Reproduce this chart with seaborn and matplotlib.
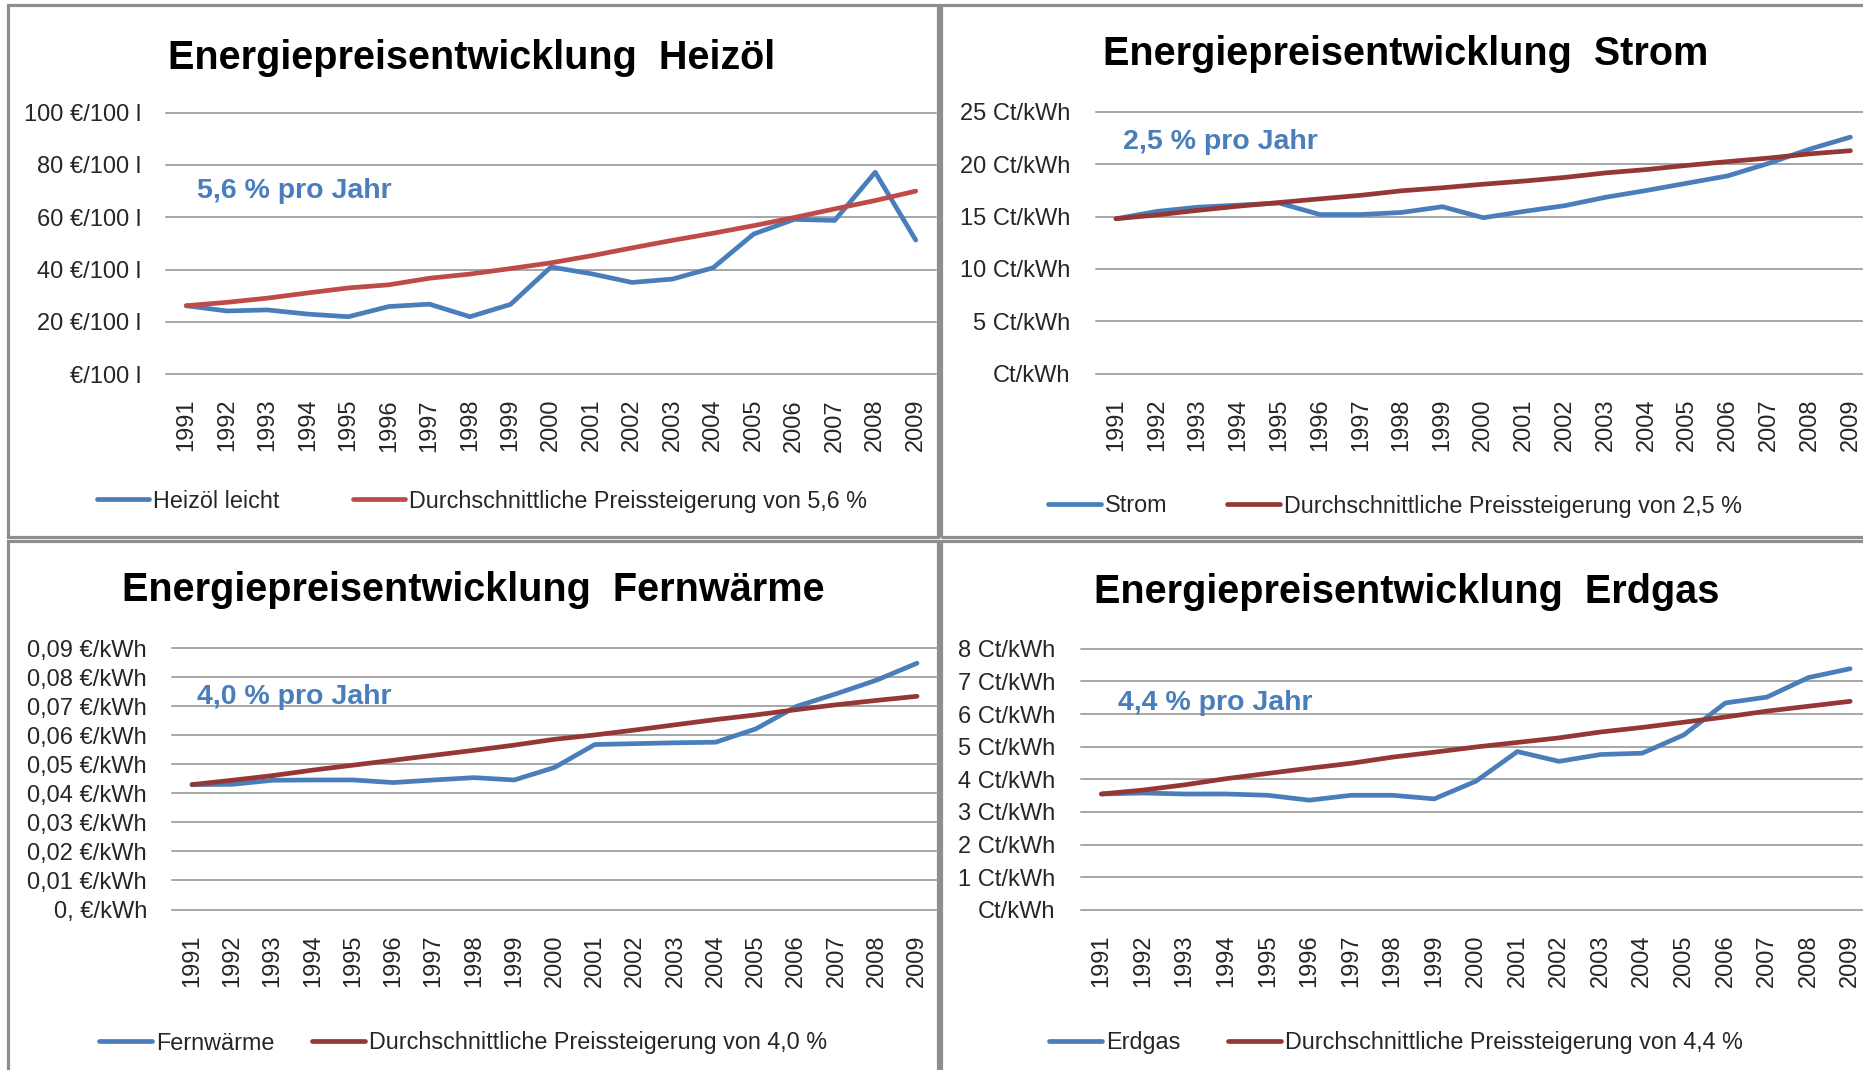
import matplotlib
matplotlib.use("Agg")
import matplotlib.pyplot as plt
import seaborn as sns
import pandas as pd
from matplotlib.patches import Rectangle

# ---------------- data ----------------
years = list(range(1991, 2010))

heizoel_preis = [26.2, 24.2, 24.6, 23.0, 22.0, 25.9, 26.8, 22.0, 26.7, 41.0,
                 38.4, 35.1, 36.4, 40.7, 53.6, 59.2, 58.8, 77.2, 51.3]
heizoel_trend = [26.2, 27.5, 29.1, 31.1, 33.0, 34.2, 36.7, 38.3, 40.4, 42.6,
                 45.3, 48.3, 51.2, 53.9, 56.8, 59.9, 63.2, 66.4, 70.0]

strom_preis = [14.8, 15.5, 15.9, 16.1, 16.3, 15.2, 15.2, 15.4, 15.95, 14.9,
               15.5, 16.05, 16.85, 17.5, 18.2, 18.9, 20.1, 21.45, 22.6]
strom_trend = [14.8, 15.16, 15.6, 16.0, 16.35, 16.7, 17.04, 17.47, 17.76, 18.1,
               18.4, 18.75, 19.18, 19.5, 19.9, 20.26, 20.6, 21.0, 21.3]

fernwaerme_preis = [0.0430, 0.0431, 0.0445, 0.0446, 0.0446, 0.0437, 0.0446, 0.0454, 0.0446, 0.0489,
                    0.0568, 0.0571, 0.0574, 0.0576, 0.0622, 0.0699, 0.0743, 0.0790, 0.0848]
fernwaerme_trend = [0.0430, 0.0445, 0.0461, 0.0480, 0.0497, 0.0514, 0.0531, 0.0548, 0.0566, 0.0586,
                    0.0601, 0.0618, 0.0636, 0.0654, 0.0670, 0.0688, 0.0705, 0.0720, 0.0734]

erdgas_preis = [3.55, 3.58, 3.55, 3.55, 3.51, 3.36, 3.51, 3.51, 3.40, 3.94,
                4.85, 4.55, 4.76, 4.80, 5.36, 6.34, 6.52, 7.12, 7.39]
erdgas_trend = [3.55, 3.67, 3.83, 4.02, 4.18, 4.34, 4.49, 4.68, 4.83, 4.99,
                5.13, 5.27, 5.45, 5.59, 5.75, 5.91, 6.09, 6.24, 6.39]

heizoel_ticks = [0, 20, 40, 60, 80, 100]
heizoel_ticklabels = ["€/100 l", "20 €/100 l", "40 €/100 l", "60 €/100 l", "80 €/100 l", "100 €/100 l"]
strom_ticks = [0, 5, 10, 15, 20, 25]
strom_ticklabels = ["Ct/kWh", "5 Ct/kWh", "10 Ct/kWh", "15 Ct/kWh", "20 Ct/kWh", "25 Ct/kWh"]
fernwaerme_ticks = [0.0, 0.01, 0.02, 0.03, 0.04, 0.05, 0.06, 0.07, 0.08, 0.09]
fernwaerme_ticklabels = ["0, €/kWh", "0,01 €/kWh", "0,02 €/kWh", "0,03 €/kWh", "0,04 €/kWh",
                         "0,05 €/kWh", "0,06 €/kWh", "0,07 €/kWh", "0,08 €/kWh", "0,09 €/kWh"]
erdgas_ticks = [0, 1, 2, 3, 4, 5, 6, 7, 8]
erdgas_ticklabels = ["Ct/kWh", "1 Ct/kWh", "2 Ct/kWh", "3 Ct/kWh", "4 Ct/kWh",
                     "5 Ct/kWh", "6 Ct/kWh", "7 Ct/kWh", "8 Ct/kWh"]

titles = ["Energiepreisentwicklung  Heizöl", "Energiepreisentwicklung  Strom",
          "Energiepreisentwicklung  Fernwärme", "Energiepreisentwicklung  Erdgas"]
rates = ["5,6 % pro Jahr", "2,5 % pro Jahr", "4,0 % pro Jahr", "4,4 % pro Jahr"]
series_names = ["Heizöl leicht", "Strom", "Fernwärme", "Erdgas"]
trend_names = ["Durchschnittliche Preissteigerung von 5,6 %",
               "Durchschnittliche Preissteigerung von 2,5 %",
               "Durchschnittliche Preissteigerung von 4,0 %",
               "Durchschnittliche Preissteigerung von 4,4 %"]

# ---------------- style ----------------
sns.set_style("white")
plt.rcParams["font.family"] = ["Liberation Sans", "DejaVu Sans"]

W, H = 1863, 1070
fig = plt.figure(figsize=(W / 100, H / 100), dpi=100)
fig.patch.set_facecolor("white")

BLUE = "#4A7EBB"
RED_LIGHT = "#BE4B48"
RED_DARK = "#953735"
GRID = "#A6A6A6"
TXT = "#262626"

panels = [
    dict(preis=heizoel_preis, trend=heizoel_trend, ticks=heizoel_ticks, labels=heizoel_ticklabels,
         red=RED_LIGHT, ax_px=(166, 936, 112.6, 374.3),
         title_xy=(472, 69), rate_xy=(197, 198),
         leg1=(96.7, 501), leg2=(352.7, 501), border=(8, 937.5, 5, 536.5)),
    dict(preis=strom_preis, trend=strom_trend, ticks=strom_ticks, labels=strom_ticklabels,
         red=RED_DARK, ax_px=(1095.6, 1870.8, 112, 373.6),
         title_xy=(1406, 65.4), rate_xy=(1123, 148.8),
         leg1=(1048, 506), leg2=(1227, 506), border=(941, 1875, 5, 536.5)),
    dict(preis=fernwaerme_preis, trend=fernwaerme_trend, ticks=fernwaerme_ticks, labels=fernwaerme_ticklabels,
         red=RED_DARK, ax_px=(171.9, 937.2, 648.1, 909.5),
         title_xy=(473, 601.3), rate_xy=(197, 703.9),
         leg1=(99, 1043), leg2=(312, 1043), border=(8, 937.5, 541, 1080)),
    dict(preis=erdgas_preis, trend=erdgas_trend, ticks=erdgas_ticks, labels=erdgas_ticklabels,
         red=RED_DARK, ax_px=(1080.6, 1871, 648.8, 909.8),
         title_xy=(1407, 603), rate_xy=(1118, 709.8),
         leg1=(1049, 1043), leg2=(1228, 1043), border=(941, 1875, 541, 1080)),
]

for i, p in enumerate(panels):
    # panel border
    bx0, bx1, by0, by1 = p["border"]
    fig.add_artist(Rectangle((bx0 / W, 1 - by1 / H), (bx1 - bx0) / W, (by1 - by0) / H,
                             transform=fig.transFigure, fill=False,
                             edgecolor="#8E8E8E", linewidth=2.3, zorder=0))

    x0, x1, ytop, ybot = p["ax_px"]
    lo, hi = p["ticks"][0], p["ticks"][-1]
    m = 0.02 * (hi - lo)
    ppu = (ybot - ytop) / (hi - lo)
    top = ytop - m * ppu
    bot = ybot + m * ppu
    ax = fig.add_axes([x0 / W, 1 - bot / H, (x1 - x0) / W, (bot - top) / H])
    ax.set_facecolor("none")

    df = pd.DataFrame({
        "Jahr": years * 2,
        "Wert": p["preis"] + p["trend"],
        "Reihe": [series_names[i]] * len(years) + [trend_names[i]] * len(years),
    })
    sns.lineplot(data=df, x="Jahr", y="Wert", hue="Reihe",
                 palette={series_names[i]: BLUE, trend_names[i]: p["red"]},
                 linewidth=3.4, ax=ax, legend=False, zorder=3)
    for ln in ax.lines:
        ln.set_solid_capstyle("round")
        ln.set_solid_joinstyle("round")

    ax.set_xlim(1990.5, 2009.5)
    ax.set_ylim(lo - m, hi + m)
    ax.set_xticks(years)
    ax.set_xticklabels([str(y) for y in years], rotation=90, fontsize=17, color=TXT)
    ax.set_yticks(p["ticks"])
    ax.set_yticklabels(p["labels"], fontsize=17, color=TXT)
    ax.tick_params(axis="both", length=0)
    ax.tick_params(axis="x", pad=14)
    ax.tick_params(axis="y", pad=18)
    ax.grid(axis="y", color=GRID, linewidth=1.4)
    ax.grid(axis="x", visible=False)
    for gl in ax.get_ygridlines():
        gl.set_clip_on(False)
    ax.set_axisbelow(True)
    for s in ax.spines.values():
        s.set_visible(False)
    ax.set_xlabel("")
    ax.set_ylabel("")

    # title
    tx, ty = p["title_xy"]
    fig.text(tx / W, 1 - ty / H, titles[i], ha="center", va="baseline",
             fontsize=28.5, fontweight="bold", color="black")
    # rate annotation
    rx, ry = p["rate_xy"]
    fig.text(rx / W, 1 - ry / H, rates[i], ha="left", va="baseline",
             fontsize=20.5, fontweight="bold", color=BLUE)

    # legends (one per entry, placed like the original)
    h_blue, h_red = ax.lines[0], ax.lines[1]
    for handle, name, (lx, ly) in [(h_blue, series_names[i], p["leg1"]),
                                   (h_red, trend_names[i], p["leg2"])]:
        leg = fig.legend([handle], [name], loc="center left",
                         bbox_to_anchor=(lx / W, 1 - ly / H),
                         bbox_transform=fig.transFigure,
                         frameon=False, fontsize=16.8, handlelength=2.25,
                         handletextpad=0.18, borderpad=0, borderaxespad=0)
        for t in leg.get_texts():
            t.set_color(TXT)

fig.savefig("out.png", dpi=100, facecolor="white")
